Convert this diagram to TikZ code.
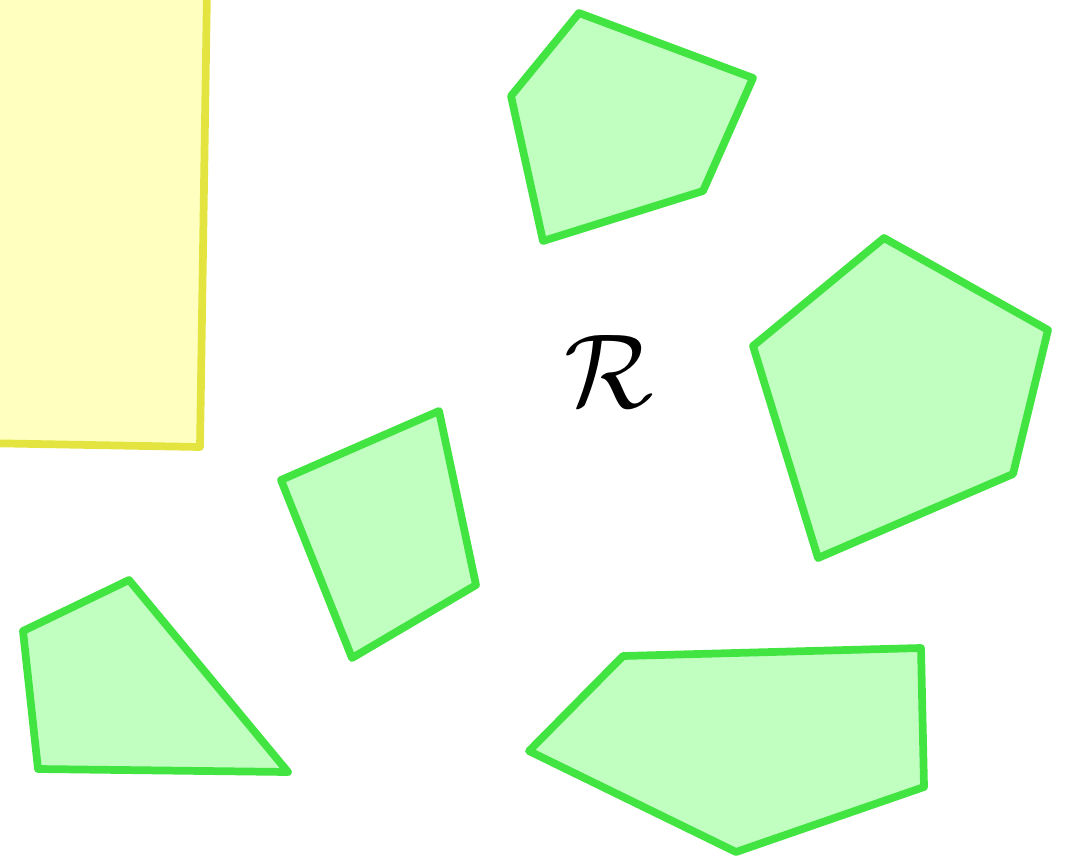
\documentclass[tikz,border=0pt]{standalone}
\usepackage{amsmath}
\usepackage{amssymb}
\usetikzlibrary{calc}

\definecolor{obsline}{RGB}{66,228,66}
\definecolor{obsfill}{RGB}{192,255,192}
\definecolor{regline}{RGB}{228,228,64}
\definecolor{regfill}{RGB}{255,255,192}

\begin{document}
\begin{tikzpicture}[x=0.02cm, y=-0.02cm, obstacle/.style={draw=obsline, fill=obsfill, line width=4.4pt, line join=round}, region/.style={draw=regline, fill=regfill, line width=4.4pt, line join=round}]
        % Fix the size of the picture
        \useasboundingbox (0,0) rectangle (1067,855);
        \clip (0,0) rectangle (1067,855);

        % Draw the region on the left
        \draw[region] (-20,-10) -- (207,-10) -- (200,447) -- (-20,443);

        % Draw the obstacles
        \draw[obstacle] (579,13) -- (753,78) -- (703,191) -- (543,241) -- (511,96) -- cycle;
        \draw[obstacle] (884,238) -- (1048,330) -- (1013,474) -- (818,558) -- (753,346) -- cycle;
        \draw[obstacle] (281,480) -- (439,411) -- (476,585) -- (352,658) -- cycle;
        \draw[obstacle] (23,631) -- (129,580) -- (288,772) -- (38,769) -- cycle;
        \draw[obstacle] (623,656) -- (921,648) -- (924,787) -- (736,852) -- (529,751) -- cycle;

        % Label of the free space
        \node[inner sep=0pt, scale=6] (R) at (609,371) {$\mathcal{R}$};
      \end{tikzpicture}
\end{document}
